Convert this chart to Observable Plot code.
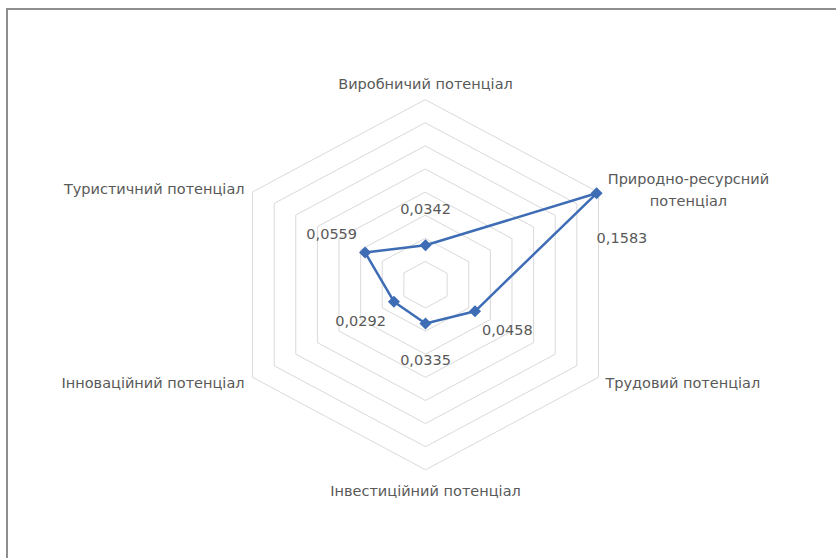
<!DOCTYPE html>
<html>
<head>
<meta charset="utf-8">
<script src="https://cdn.jsdelivr.net/npm/d3@7"></script>
<script src="https://cdn.jsdelivr.net/npm/@observablehq/plot@0.6"></script>
<style>
  html, body { margin: 0; padding: 0; background: #fff; }
  #wrap { position: relative; width: 836px; height: 558px; overflow: hidden; }
  #frame { position: absolute; left: 6px; top: 8px; width: 900px; height: 548px;
           border-left: 2px solid #8e8e8e; border-top: 2px solid #8e8e8e;
           border-bottom: 1px solid #e4e4e4; pointer-events: none; }
  svg { position: absolute; left: 0; top: 0; }
</style>
</head>
<body>
<div id="wrap"><div id="frame"></div></div>
<script>
// ---- data ----
const categories = [
  "Виробничий потенціал",
  "Природно-ресурсний\nпотенціал",
  "Трудовий потенціал",
  "Інвестиційний потенціал",
  "Інноваційний потенціал",
  "Туристичний потенціал"
];
const values = [0.0342, 0.1583, 0.0458, 0.0335, 0.0292, 0.0559];
const valueLabels = ["0,0342", "0,1583", "0,0458", "0,0335", "0,0292", "0,0559"];
const gridLevels = [0.02, 0.04, 0.06, 0.08, 0.10, 0.12, 0.14, 0.16];
const maxValue = 0.16;

// ---- layout (label placement, in pixels) ----
const catLabelLayout = [
  {anchor: "middle", dx: 0,   dy: -18},
  {anchor: "middle", dx: 90,  dy: -4},
  {anchor: "start",  dx: 7,   dy: 4},
  {anchor: "middle", dx: 0,   dy: 19},
  {anchor: "end",    dx: -8,  dy: 4},
  {anchor: "end",    dx: -8,  dy: -5}
];
const valLabelLayout = [
  {anchor: "middle", dx: 0,   dy: -36},
  {anchor: "start",  dx: 0,   dy: 45},
  {anchor: "start",  dx: 7,   dy: 19},
  {anchor: "middle", dx: 0,   dy: 37},
  {anchor: "end",    dx: -8,  dy: 20},
  {anchor: "end",    dx: -8,  dy: -18}
];

const n = categories.length;
const angle = i => (i * 2 * Math.PI) / n;
const px = (i, v) => v * Math.sin(angle(i));
const py = (i, v) => v * Math.cos(angle(i));

const grid = gridLevels.flatMap(level =>
  categories.map((c, i) => ({level, x: px(i, level), y: py(i, level)})));
const series = values.map((v, i) => ({x: px(i, v), y: py(i, v), v, label: valueLabels[i]}));
const outer = categories.map((c, i) => ({x: px(i, maxValue), y: py(i, maxValue), c}));

const font = "DejaVu Sans, sans-serif";
const textColor = "#595959";
const fs = 14.5;

const marks = [
  Plot.line(grid, {x: "x", y: "y", z: "level", curve: "linear-closed",
    stroke: "#d9d9d9", strokeWidth: 1}),
  Plot.line(series, {x: "x", y: "y", curve: "linear-closed",
    stroke: "#3e6db5", strokeWidth: 2.5}),
  Plot.dot(series, {x: "x", y: "y", symbol: "diamond2", r: 4.5,
    fill: "#3e6db5", stroke: "#3e6db5"})
];
outer.forEach((d, i) => {
  const L = catLabelLayout[i];
  marks.push(Plot.text([d], {x: "x", y: "y", text: "c", textAnchor: L.anchor,
    dx: L.dx, dy: L.dy, fill: textColor, fontSize: fs, fontFamily: font, lineHeight: 1.5}));
});
series.forEach((d, i) => {
  const L = valLabelLayout[i];
  marks.push(Plot.text([d], {x: "x", y: "y", text: "label", textAnchor: L.anchor,
    dx: L.dx, dy: L.dy, fill: textColor, fontSize: fs, fontFamily: font}));
});

const chart = Plot.plot({
  width: 836,
  height: 558,
  margin: 0,
  style: {background: "transparent", fontFamily: font},
  x: {domain: [-maxValue, maxValue], range: [425 - 199.7, 425 + 199.7], axis: null},
  y: {domain: [-maxValue, maxValue], range: [284.3 + 185, 284.3 - 185], axis: null},
  marks
});
document.getElementById("wrap").appendChild(chart);
</script>
</body>
</html>
